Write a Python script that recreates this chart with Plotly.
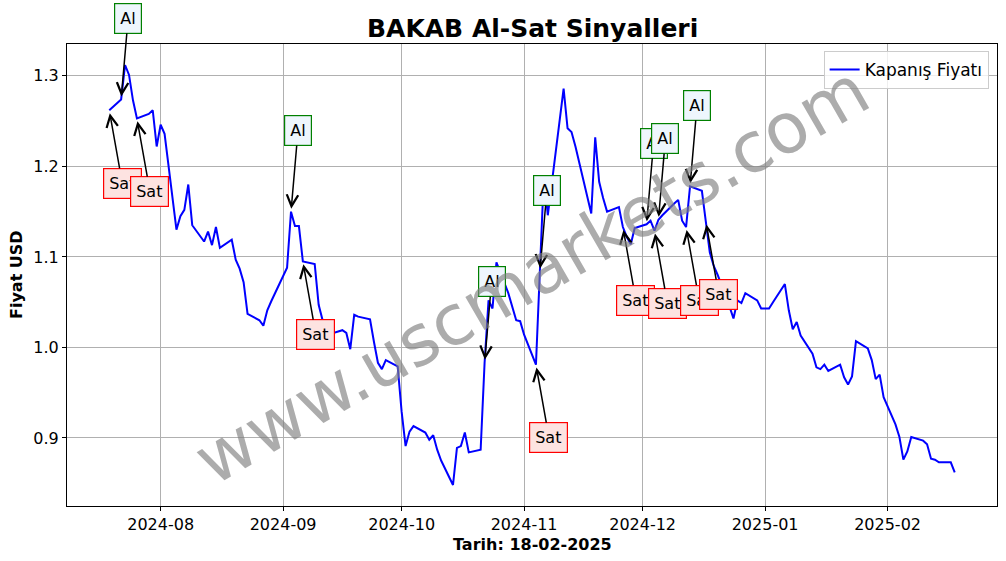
import pandas as pd
import plotly.graph_objects as go

dates = [
    "2024-07-19", "2024-07-22", "2024-07-23", "2024-07-24", "2024-07-25", "2024-07-26",
    "2024-07-29", "2024-07-30", "2024-07-31", "2024-08-01", "2024-08-02",
    "2024-08-05", "2024-08-06", "2024-08-07", "2024-08-08", "2024-08-09",
    "2024-08-12", "2024-08-13", "2024-08-14", "2024-08-15", "2024-08-16",
    "2024-08-19", "2024-08-20", "2024-08-21", "2024-08-22", "2024-08-23",
    "2024-08-26", "2024-08-27", "2024-08-28", "2024-08-29",
    "2024-09-02", "2024-09-03", "2024-09-04", "2024-09-05", "2024-09-06",
    "2024-09-09", "2024-09-10", "2024-09-11", "2024-09-12", "2024-09-13",
    "2024-09-16", "2024-09-17", "2024-09-18", "2024-09-19", "2024-09-20",
    "2024-09-23", "2024-09-24", "2024-09-25", "2024-09-26", "2024-09-27",
    "2024-09-30", "2024-10-01", "2024-10-02", "2024-10-03", "2024-10-04",
    "2024-10-07", "2024-10-08", "2024-10-09", "2024-10-10", "2024-10-11",
    "2024-10-14", "2024-10-15", "2024-10-16", "2024-10-17", "2024-10-18",
    "2024-10-21", "2024-10-22", "2024-10-23", "2024-10-24", "2024-10-25",
    "2024-10-28", "2024-10-30", "2024-10-31", "2024-11-01",
    "2024-11-04", "2024-11-05", "2024-11-06", "2024-11-07", "2024-11-08",
    "2024-11-11", "2024-11-12", "2024-11-13", "2024-11-14", "2024-11-15",
    "2024-11-18", "2024-11-19", "2024-11-20", "2024-11-21", "2024-11-22",
    "2024-11-25", "2024-11-26", "2024-11-27", "2024-11-28", "2024-11-29",
    "2024-12-02", "2024-12-03", "2024-12-04", "2024-12-05", "2024-12-06",
    "2024-12-09", "2024-12-10", "2024-12-11", "2024-12-12", "2024-12-13",
    "2024-12-16", "2024-12-17", "2024-12-18", "2024-12-19", "2024-12-20",
    "2024-12-23", "2024-12-24", "2024-12-25", "2024-12-26", "2024-12-27",
    "2024-12-30", "2024-12-31", "2025-01-02", "2025-01-03",
    "2025-01-06", "2025-01-07", "2025-01-08", "2025-01-09", "2025-01-10",
    "2025-01-13", "2025-01-14", "2025-01-15", "2025-01-16", "2025-01-17",
    "2025-01-20", "2025-01-21", "2025-01-22", "2025-01-23", "2025-01-24",
    "2025-01-27", "2025-01-28", "2025-01-29", "2025-01-30", "2025-01-31",
    "2025-02-03", "2025-02-04", "2025-02-05", "2025-02-06", "2025-02-07",
    "2025-02-10", "2025-02-11", "2025-02-12", "2025-02-13", "2025-02-14",
    "2025-02-17", "2025-02-18",
]

close = [
    1.262, 1.274, 1.312, 1.301, 1.273, 1.253,
    1.258, 1.262, 1.222, 1.246, 1.236,
    1.130, 1.145, 1.152, 1.180, 1.135,
    1.117, 1.128, 1.113, 1.133, 1.110,
    1.119, 1.097, 1.087, 1.072, 1.037,
    1.030, 1.024, 1.041, 1.051,
    1.088, 1.150, 1.134, 1.134, 1.095,
    1.092, 1.047, 1.030, 1.022, 1.015,
    1.019, 1.016, 0.998, 1.036, 1.034,
    1.031, 1.006, 0.983, 0.976, 0.986,
    0.979, 0.929, 0.891, 0.907, 0.913,
    0.906, 0.898, 0.903, 0.887, 0.875,
    0.848, 0.889, 0.891, 0.906, 0.884,
    0.887, 0.983, 1.052, 1.043, 1.094,
    1.060, 1.030, 1.029, 1.014,
    0.981, 1.084, 1.189, 1.146, 1.180,
    1.286, 1.242, 1.238, 1.222, 1.204,
    1.148, 1.232, 1.183, 1.165, 1.150,
    1.155, 1.133, 1.122, 1.114, 1.132,
    1.136, 1.140, 1.129, 1.141, 1.146,
    1.159, 1.163, 1.140, 1.133, 1.178,
    1.173, 1.139, 1.105, 1.090, 1.080,
    1.045, 1.032, 1.052, 1.049, 1.060,
    1.052, 1.043, 1.043, 1.050,
    1.070, 1.041, 1.020, 1.028, 1.013,
    0.993, 0.978, 0.976, 0.981, 0.974,
    0.981, 0.967, 0.959, 0.968, 1.007,
    0.999, 0.986, 0.965, 0.970, 0.945,
    0.915, 0.901, 0.876, 0.885, 0.901,
    0.897, 0.893, 0.877, 0.876, 0.873,
    0.873, 0.862,
]

al_dates = ["2024-07-22", "2024-09-03", "2024-10-22", "2024-11-05",
            "2024-12-02", "2024-12-05", "2024-12-13"]
sat_dates = ["2024-07-19", "2024-07-26", "2024-09-06", "2024-11-04",
             "2024-11-26", "2024-12-04", "2024-12-12", "2024-12-17"]

title_text = "BAKAB Al-Sat Sinyalleri"
x_title = "Tarih: 18-02-2025"
y_title = "Fiyat USD"
legend_name = "Kapanış Fiyatı"
watermark = "www.uscmarkets.com"

FONT = "DejaVu Sans"

d = pd.to_datetime(pd.Series(dates))
price = dict(zip(dates, close))
span = d.max() - d.min()
x_range = [d.min() - 0.05 * span, d.max() + 0.05 * span]
y_span = max(close) - min(close)
y_range = [min(close) - 0.05 * y_span, max(close) + 0.05 * y_span]

fig = go.Figure()
fig.add_trace(go.Scatter(
    x=dates, y=close, mode="lines", name=legend_name,
    line=dict(color="#0000ff", width=2),
))

signals = [(s, "Al") for s in al_dates] + [(s, "Sat") for s in sat_dates]
signals.sort(key=lambda t: t[0])

annotations = []
for day, kind in signals:
    if kind == "Al":
        annotations.append(dict(
            x=day, y=price[day], xref="x", yref="y", text="Al",
            showarrow=True, ax=7, ay=-81, arrowhead=5, arrowsize=1.5,
            arrowwidth=1.5, arrowcolor="black", standoff=3,
            bgcolor="#eef6fd", bordercolor="#008000", borderwidth=1.2,
            borderpad=5, font=dict(family=FONT, size=16, color="black"),
        ))
    else:
        annotations.append(dict(
            x=day, y=price[day], xref="x", yref="y", text="Sat",
            showarrow=True, ax=13, ay=73, arrowhead=5, arrowsize=1.5,
            arrowwidth=1.5, arrowcolor="black", standoff=3,
            bgcolor="#fde3e1", bordercolor="#ff0000", borderwidth=1.2,
            borderpad=5, font=dict(family=FONT, size=16, color="black"),
        ))

annotations.append(dict(
    x=0.5, y=0.5, xref="paper", yref="paper", text=watermark,
    showarrow=False, textangle=-30,
    font=dict(family=FONT, size=70, color="rgba(128,128,128,0.65)"),
))
annotations.append(dict(
    x=0.5, y=1, xref="paper", yref="paper", yanchor="middle", yshift=16,
    text="<b>" + title_text + "</b>", showarrow=False,
    font=dict(family=FONT, size=25, color="black"),
))
annotations.append(dict(
    x=0.5, y=0, xref="paper", yref="paper", yanchor="middle", yshift=-38,
    text="<b>" + x_title + "</b>", showarrow=False,
    font=dict(family=FONT, size=16, color="black"),
))
annotations.append(dict(
    x=0, y=0.5, xref="paper", yref="paper", xanchor="center", xshift=-51,
    text="<b>" + y_title + "</b>", showarrow=False, textangle=-90,
    font=dict(family=FONT, size=16, color="black"),
))

axis_common = dict(
    showline=True, linecolor="black", linewidth=1, mirror=True,
    ticks="outside", ticklen=4, tickwidth=1, tickcolor="black",
    showgrid=True, gridcolor="#b0b0b0", gridwidth=0.8, automargin=False,
    zeroline=False, tickfont=dict(family=FONT, size=16, color="black"),
)

fig.update_layout(
    width=1006, height=561,
    margin=dict(l=67, r=9, t=44, b=55, autoexpand=False),
    paper_bgcolor="white", plot_bgcolor="white",
    font=dict(family=FONT, size=16, color="black"),
    xaxis=dict(axis_common, range=x_range, tickformat="%Y-%m", dtick="M1",
               tick0="2024-08-01"),
    yaxis=dict(axis_common, range=y_range, dtick=0.1, tickformat=".1f"),
    showlegend=True,
    legend=dict(x=0.991, xanchor="right", y=0.985, yanchor="top",
                bgcolor="rgba(255,255,255,0.8)", bordercolor="#cccccc",
                borderwidth=1, font=dict(family=FONT, size=17),
                itemwidth=30),
    annotations=annotations,
)

fig.write_html(
    "out.html",
    config={"displayModeBar": False},
    post_script="document.body.style.margin='0px';document.body.style.overflow='hidden';",
)
